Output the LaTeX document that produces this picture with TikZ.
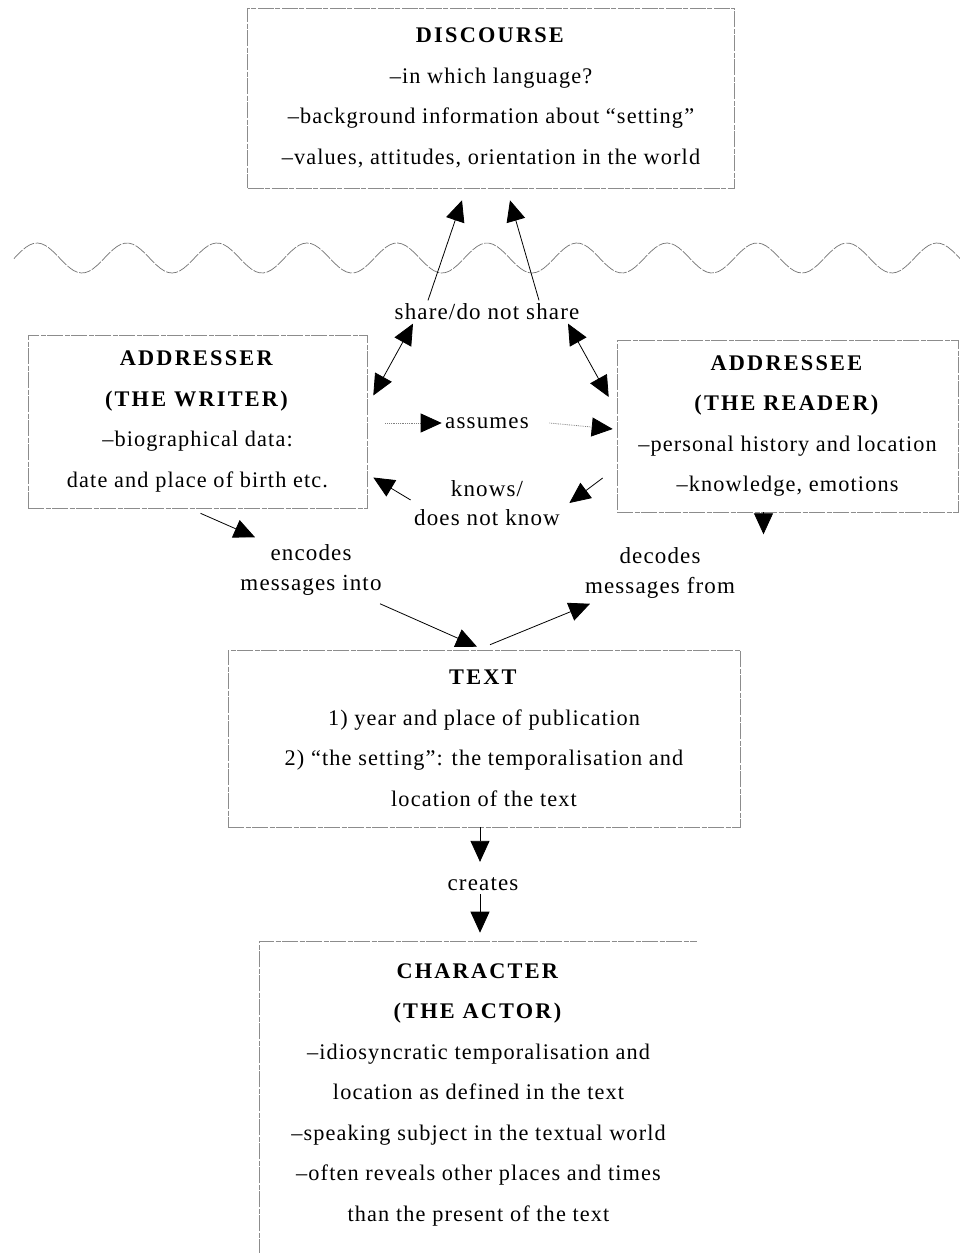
\documentclass[tikz,border=0pt]{standalone}
\usepackage{fontspec}
\setmainfont{Liberation Serif}[LetterSpace=5]
\usetikzlibrary{arrows.meta}
\newcommand\hd[1]{\textbf{\addfontfeatures{LetterSpace=10}#1}}

\begin{document}
\begin{tikzpicture}[x=1pt,y=-1pt,
  every node/.style={font=\fontsize{22.3}{40.5}\selectfont},
  box/.style={rectangle,draw=black!45,line width=0.6pt,dash pattern=on 16pt off 1.5pt on 5pt off 1.5pt,align=center,inner sep=0pt},
  lbl/.style={align=center,font=\fontsize{23}{29.5}\selectfont},
  arr/.style={line width=0.8pt,-{Triangle[length=21pt,width=19pt]}},
  dbl/.style={line width=0.8pt,{Triangle[length=21pt,width=19pt]}-{Triangle[length=21pt,width=19pt]}},
  arrdot/.style={draw=black!50,line width=0.8pt,densely dotted,-{Triangle[length=21pt,width=19pt,color=black]}},
  wave/.style={draw=black!55,line width=0.7pt,dash pattern=on 12pt off 1.5pt}]
  \path[use as bounding box,fill=white] (0,0) rectangle (960,1253);
  % draw discourse box
  \node at(491,98)[box,minimum width=487,minimum height=180](disc){\hd{DISCOURSE}\\–in which language?\\–background information about “setting”\\–values, attitudes, orientation in the world};
  % draw wavy border
  \draw[wave] plot[domain=14:960,samples=240] (\x,{258-15*cos(4*(\x-37))});
  % draw "share" text
  \node at(487,312)[lbl](share){share/do not share};
  % draw writer and reader
  \node at(197.5,421.5)[box,minimum width=339,minimum height=173](writer){\hd{ADDRESSER}\\\hd{(THE WRITER)}\\–biographical data:\\date and place of birth etc.};
  \node at(787.5,426)[box,minimum width=341,minimum height=172](reader){\hd{ADDRESSEE}\\\hd{(THE READER)}\\–personal history and location\\–knowledge, emotions};
  % draw middle labels
  \node at(487,423)[lbl](assumes){assumes};
  \node at(487,503)[lbl](knows){knows/\\does not know};
  \node at(311,570)[lbl](encodes){encodes\\messages into};
  \node at(660,573)[lbl](decodes){decodes\\messages from};
  % draw text box
  \node at(484,738.5)[box,minimum width=512,minimum height=177](txt){\hd{TEXT}\\1) year and place of publication\\2) “the setting”: the temporalisation and\\location of the text};
  \node at(483,884)[lbl](creates){creates};
  % draw character box (open at right and bottom)
  \node at(478.5,1094.5)[box,draw=none,minimum width=437,minimum height=305](char){\hd{CHARACTER}\\\hd{(THE ACTOR)}\\–idiosyncratic temporalisation and\\location as defined in the text\\–speaking subject in the textual world\\–often reveals other places and times\\than the present of the text};
  \draw[box] ([yshift=-8pt]char.south west) |- (char.north east);
  % draw arrows up to discourse
  \draw[arr] ([xshift=-59pt]share.north) -- ([xshift=-29pt,yshift=-12pt]disc.south);
  \draw[arr] ([xshift=52pt]share.north) -- ([xshift=19pt,yshift=-12pt]disc.south);
  \draw[dbl] ([xshift=-74pt]share.south) -- ([xshift=6pt,yshift=26pt]writer.east);
  \draw[dbl] ([xshift=81pt]share.south) -- ([xshift=-8pt,yshift=29pt]reader.west);
  % draw arrows between writer and reader
  \draw[arrdot] ([xshift=18pt,yshift=-1.5pt]writer.east) -- (assumes.west);
  \draw[arrdot] ([xshift=17pt]assumes.east) -- ([xshift=-4pt,yshift=-3pt]reader.west);
  \draw[arr] ([yshift=3pt]knows.west) -- ([xshift=6pt,yshift=-56pt]writer.east);
  \draw[arr] ([xshift=-14pt,yshift=-52pt]reader.west) -- ([xshift=6pt]knows.east);
  % draw arrows to and from the text
  \draw[arr] ([xshift=3pt,yshift=-5pt]writer.south) -- ([xshift=-56pt,yshift=4pt]encodes.north);
  \draw[arr] ([xshift=69pt,yshift=-5pt]encodes.south) -- ([xshift=-7pt,yshift=3pt]txt.north);
  \draw[arr] ([xshift=6pt,yshift=5pt]txt.north) -- ([xshift=-70pt,yshift=-2pt]decodes.south);
  \draw[arr] ([xshift=-24pt]reader.south) -- ++(0,22);
  % draw arrows from text to character
  \draw[arr] ([xshift=-4pt]txt.south) -- ([xshift=-3pt,yshift=12pt]creates.north);
  \draw[arr] ([xshift=-3pt]creates.south) -- ([xshift=1.5pt,yshift=9pt]char.north);
\end{tikzpicture}
\end{document}
